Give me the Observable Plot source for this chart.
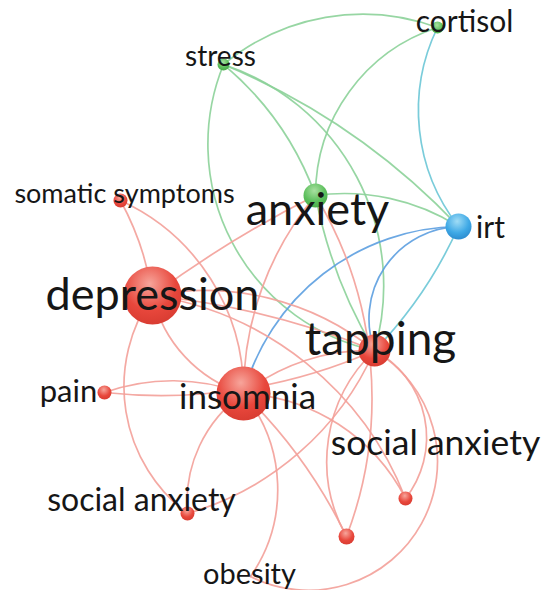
<!DOCTYPE html>
<html>
<head>
<meta charset="utf-8">
<script src="https://cdn.jsdelivr.net/npm/d3@7"></script>
<script src="https://cdn.jsdelivr.net/npm/@observablehq/plot@0.6"></script>
<style>
  html, body { margin: 0; padding: 0; background: #fff; }
  #chart svg { display: block; }
</style>
</head>
<body>
<div id="chart"></div>
<script>
// ---- data ----
const nodeNames   = ["stress","cortisol","somatic symptoms","anxiety","irt","depression","tapping","insomnia","pain","social anxiety (a)","social anxiety (b)","unlabeled","obesity"];
const nodeLabels  = ["stress","cortisol","somatic symptoms","anxiety","irt","depression","tapping","insomnia","pain","social anxiety","social anxiety","","obesity"];
const nodeX       = [223, 437, 120, 315, 458, 152, 374, 243, 104, 187, 405, 346, 250];
const nodeY       = [64, 27, 200, 195, 226, 295, 350, 393, 392, 513, 498, 536, 576];
const nodeWeight  = [6, 6, 7, 12, 13, 29, 16, 27, 7, 7, 7, 8, 0];
const nodeCluster = ["green","green","red","green","blue","red","red","red","red","red","red","red","red"];
const labelX      = [220, 464, 124, 317, 490, 152, 380, 247, 68, 141, 435, 0, 249];
const labelY      = [57, 22, 194, 210, 228, 295, 340, 397, 392, 500, 443, 0, 574];
const labelWeight = [28, 30, 27, 45, 30, 45, 46, 35, 31, 32, 35.5, 0, 29];

const edgeSource  = ["stress","stress","stress","stress","stress","cortisol","irt","anxiety","anxiety",
                     "irt","irt","irt",
                     "somatic symptoms","somatic symptoms","depression","depression","depression","depression","depression","depression",
                     "anxiety","pain","pain","insomnia","insomnia","social anxiety (a)","obesity","insomnia",
                     "tapping","tapping","tapping","anxiety","insomnia"];
const edgeTarget  = ["cortisol","anxiety","irt","tapping","tapping","anxiety","cortisol","irt","tapping",
                     "insomnia","tapping","tapping",
                     "depression","insomnia","anxiety","tapping","tapping","insomnia","social anxiety (a)","social anxiety (b)",
                     "unlabeled","insomnia","tapping","tapping","social anxiety (a)","tapping","insomnia","social anxiety (b)",
                     "unlabeled","social anxiety (b)","obesity","insomnia","unlabeled"];
const edgeBend    = [30,15,12,44,-50,-36,32,20,-10,
                     -37,-54,10,
                     10,33,5,25,8,-30,-44,30,
                     26,20,-15,20,-30,-25,-37,30,
                     -38,50,88,-20,10];
const edgeGroup   = ["green","green","green","green","green","green","teal","green","green",
                     "blue","blue","teal",
                     "red","red","red","red","red","red","red","red",
                     "red","red","red","red","red","red","red","red",
                     "red","red","red","red","red"];

// ---- build tables ----
const nodes = nodeNames.map((n, i) => ({name: n, label: nodeLabels[i], x: nodeX[i], y: nodeY[i], w: nodeWeight[i],
  cluster: nodeCluster[i], lx: labelX[i], ly: labelY[i], ls: labelWeight[i]}));
const byName = new Map(nodes.map(d => [d.name, d]));
const edges = edgeSource.map((s, i) => ({s: byName.get(s), t: byName.get(edgeTarget[i]), bend: edgeBend[i], group: edgeGroup[i]}));

const edgeColor = {green: "#8cd299", red: "#f3a099", blue: "#5c9ee0", teal: "#6cc6d6"};
const nodeFill = {green: "url(#gGreen)", red: "url(#gRed)", blue: "url(#gBlue)"};

const W = 543, H = 590;
const marks = [];
for (const e of edges) {
  marks.push(Plot.arrow([e], {
    x1: d => d.s.x, y1: d => d.s.y, x2: d => d.t.x, y2: d => d.t.y,
    bend: e.bend, headLength: 0, insetStart: 0, insetEnd: 0,
    stroke: edgeColor[e.group], strokeWidth: 1.7, strokeOpacity: 0.9
  }));
}
marks.push(Plot.dot(nodes.filter(d => d.w > 0), {
  x: "x", y: "y", r: "w", fill: d => nodeFill[d.cluster], stroke: "none"
}));
for (const d of nodes.filter(d => d.label)) {
  marks.push(Plot.text([d], {
    x: "lx", y: "ly", text: "label", fontSize: d.ls, fill: "#161616",
    textAnchor: "middle", lineAnchor: "middle", fontFamily: "Lato"
  }));
}

const chart = Plot.plot({
  width: W, height: H, margin: 0,
  x: {domain: [0, W], range: [0, W], axis: null},
  y: {domain: [0, H], range: [0, H], axis: null},
  r: {type: "identity"},
  fill: {type: "identity"},
  style: {background: "#fff"},
  marks
});

// radial gradients for spherical nodes
const defs = d3.select(chart).insert("defs", ":first-child");
const grads = {gRed: ["#f7a59b", "#e8473c", "#d63a30"], gGreen: ["#a8e0a0", "#5cbf5c", "#48a848"], gBlue: ["#a0dcf5", "#3fa9e6", "#2a88cc"]};
for (const [id, [c0, c1, c2]] of Object.entries(grads)) {
  const g = defs.append("radialGradient").attr("id", id).attr("cx", "45%").attr("cy", "30%").attr("r", "75%");
  g.append("stop").attr("offset", "0%").attr("stop-color", c0);
  g.append("stop").attr("offset", "60%").attr("stop-color", c1);
  g.append("stop").attr("offset", "100%").attr("stop-color", c2);
}
document.getElementById("chart").appendChild(chart);
</script>
</body>
</html>
